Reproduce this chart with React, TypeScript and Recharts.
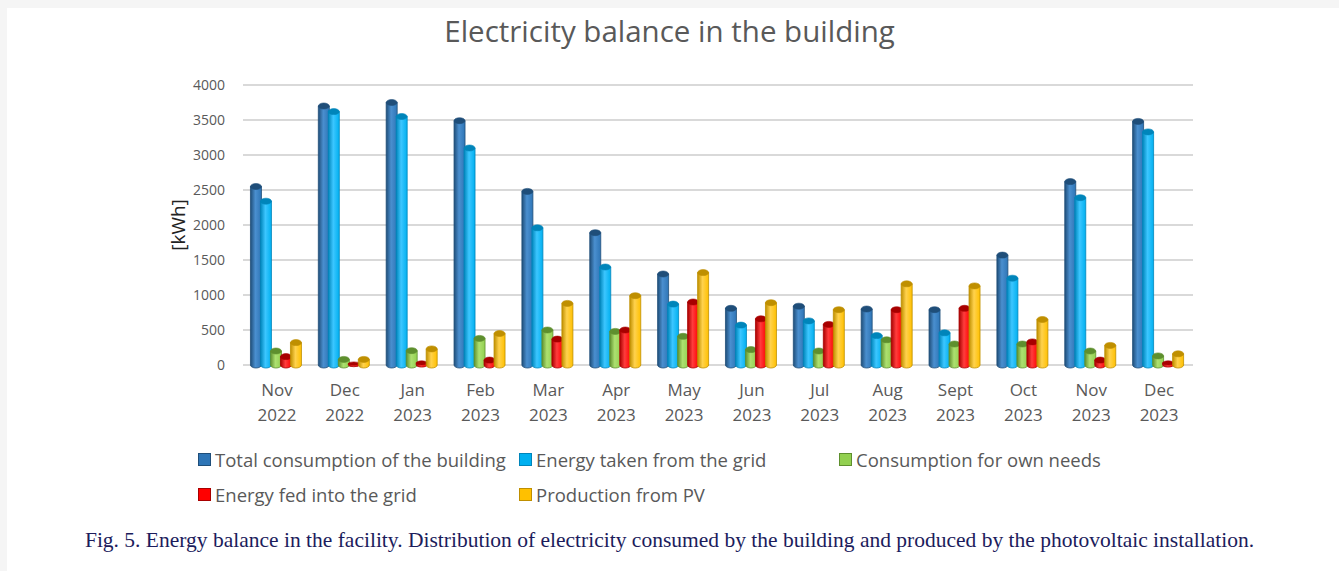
import { Bar, BarChart, CartesianGrid, Legend, XAxis, YAxis } from 'recharts'

const months = ['Nov', 'Dec', 'Jan', 'Feb', 'Mar', 'Apr', 'May', 'Jun', 'Jul', 'Aug', 'Sept', 'Oct', 'Nov', 'Dec']
const years = ['2022', '2022', '2023', '2023', '2023', '2023', '2023', '2023', '2023', '2023', '2023', '2023', '2023', '2023']

const totalConsumption = [2550, 3700, 3750, 3490, 2480, 1890, 1300, 810, 840, 800, 790, 1570, 2620, 3480]
const takenFromGrid = [2340, 3620, 3550, 3100, 1960, 1400, 870, 570, 630, 420, 460, 1240, 2390, 3330]
const ownNeeds = [200, 80, 205, 380, 500, 480, 410, 220, 200, 360, 300, 300, 200, 130]
const fedIntoGrid = [120, 20, 30, 70, 370, 500, 900, 660, 580, 790, 810, 330, 70, 30]
const productionPV = [320, 80, 230, 450, 880, 990, 1320, 890, 790, 1160, 1130, 650, 280, 160]

const yTicks = [0, 500, 1000, 1500, 2000, 2500, 3000, 3500, 4000]

const data = months.map((m, i) => ({
  key: `${m}-${years[i]}-${i}`,
  month: m,
  year: years[i],
  total: totalConsumption[i],
  grid: takenFromGrid[i],
  own: ownNeeds[i],
  fed: fedIntoGrid[i],
  pv: productionPV[i],
}))

const series = [
  { key: 'total', name: 'Total consumption of the building', base: '#2E75B6', dark: '#1F4E79', light: '#4A8FCF' },
  { key: 'grid', name: 'Energy taken from the grid', base: '#00B0F0', dark: '#0085BA', light: '#3CC6FF' },
  { key: 'own', name: 'Consumption for own needs', base: '#92D050', dark: '#5E8F2E', light: '#ADE070' },
  { key: 'fed', name: 'Energy fed into the grid', base: '#FF0000', dark: '#A80000', light: '#FF3D3D' },
  { key: 'pv', name: 'Production from PV', base: '#FFC000', dark: '#BF8F00', light: '#FFD24D' },
]

const legendSlots = [
  { left: 198, top: 0 },
  { left: 519, top: 0 },
  { left: 839, top: 0 },
  { left: 198, top: 35 },
  { left: 519, top: 35 },
]

const FONT = '"Open Sans", sans-serif'
const TEXT = '#595959'

function makeCylinder(s: (typeof series)[number]) {
  return function Cylinder(props: any) {
    const { x, y, width, height } = props
    if (!(width > 0) || !(height > 0)) return <g />
    const rx = width / 2
    const ry = Math.min(3, height / 2 + 1)
    const bottom = y + height
    const body = `M ${x} ${y} L ${x} ${bottom} A ${rx} ${ry} 0 0 0 ${x + width} ${bottom} L ${x + width} ${y} Z`
    return (
      <g>
        <path d={body} fill={`url(#grad-${s.key})`} stroke={s.dark} strokeWidth={0.8} />
        <ellipse cx={x + rx} cy={y} rx={rx} ry={ry} fill={s.dark} stroke={s.dark} strokeWidth={0.6} />
      </g>
    )
  }
}

function MonthTick(props: any) {
  const { x, y, payload } = props
  const i = payload.index
  return (
    <text x={x} y={y} textAnchor="middle" fill={TEXT} fontSize={17} fontFamily={FONT}>
      <tspan x={x} dy={23}>{months[i]}</tspan>
      <tspan x={x} dy={25}>{years[i]}</tspan>
    </text>
  )
}

function LegendBlock(props: any) {
  const payload = props.payload || []
  const ordered = series
    .map((s) => ({ s, entry: payload.find((p: any) => p.dataKey === s.key || p.value === s.name) }))
    .filter((d) => d.entry)
  return (
    <div style={{ position: 'relative', width: 1339, height: 60 }}>
      {ordered.map(({ s, entry }, i) => {
        const slot = legendSlots[i]
        return (
          <div
            key={s.key}
            style={{
              position: 'absolute',
              left: slot.left,
              top: slot.top,
              display: 'flex',
              alignItems: 'center',
              fontFamily: FONT,
              fontSize: 18.5,
              color: TEXT,
              whiteSpace: 'nowrap',
            }}
          >
            <span
              style={{
                display: 'inline-block',
                width: 11,
                height: 11,
                background: s.base,
                border: `1px solid ${s.dark}`,
                marginRight: 4,
              }}
            />
            {entry.value}
          </div>
        )
      })}
    </div>
  )
}

export default function App() {
  return (
    <div
      style={{
        position: 'absolute',
        left: 0,
        top: 0,
        width: 1339,
        height: 571,
        background: '#f5f5f5',
        overflow: 'hidden',
      }}
    >
      <div style={{ position: 'absolute', left: 7, top: 8, right: 0, bottom: 0, background: '#ffffff' }} />
      <div
        style={{
          position: 'absolute',
          left: 0,
          top: 10,
          width: 1339,
          textAlign: 'center',
          fontFamily: FONT,
          fontSize: 29.5,
          color: TEXT,
        }}
      >
        Electricity balance in the building
      </div>
      <div style={{ position: 'absolute', left: 0, top: 0 }}>
        <BarChart
          width={1339}
          height={571}
          data={data}
          margin={{ top: 85, right: 146, left: 183, bottom: 116 }}
          barCategoryGap="11%"
          barGap={-1}
        >
          <defs>
            {series.map((s) => (
              <linearGradient key={s.key} id={`grad-${s.key}`} x1="0" y1="0" x2="1" y2="0">
                <stop offset="0%" stopColor={s.dark} />
                <stop offset="45%" stopColor={s.light} />
                <stop offset="100%" stopColor={s.base} />
              </linearGradient>
            ))}
          </defs>
          <CartesianGrid vertical={false} stroke="#d9d9d9" strokeWidth={2} />
          <XAxis
            dataKey="key"
            height={30}
            axisLine={false}
            tickLine={false}
            interval={0}
            tick={<MonthTick />}
          />
          <YAxis
            width={60}
            domain={[0, 4000]}
            ticks={yTicks}
            axisLine={false}
            tickLine={false}
            tickMargin={12}
            tick={{ fill: TEXT, fontSize: 14, fontFamily: FONT }}
            label={{
              value: '[kWh]',
              angle: -90,
              position: 'left',
              offset: 5,
              style: { fill: '#222', fontSize: 19, fontFamily: FONT, textAnchor: 'middle' },
            }}
          />
          <Legend
            verticalAlign="bottom"
            content={<LegendBlock />}
            wrapperStyle={{ left: 0, top: 447, width: 1339, height: 60 }}
          />
          {series.map((s) => (
            <Bar
              key={s.key}
              dataKey={s.key}
              name={s.name}
              fill={s.base}
              shape={makeCylinder(s)}
              isAnimationActive={false}
            />
          ))}
        </BarChart>
      </div>
      <div
        style={{
          position: 'absolute',
          left: 0,
          top: 528,
          width: 1339,
          textAlign: 'center',
          fontFamily: '"Liberation Serif", "Times New Roman", serif',
          fontSize: 21.5,
          color: '#1c1c5c',
        }}
      >
        Fig. 5. Energy balance in the facility. Distribution of electricity consumed by the building and produced by the
        photovoltaic installation.
      </div>
    </div>
  )
}
